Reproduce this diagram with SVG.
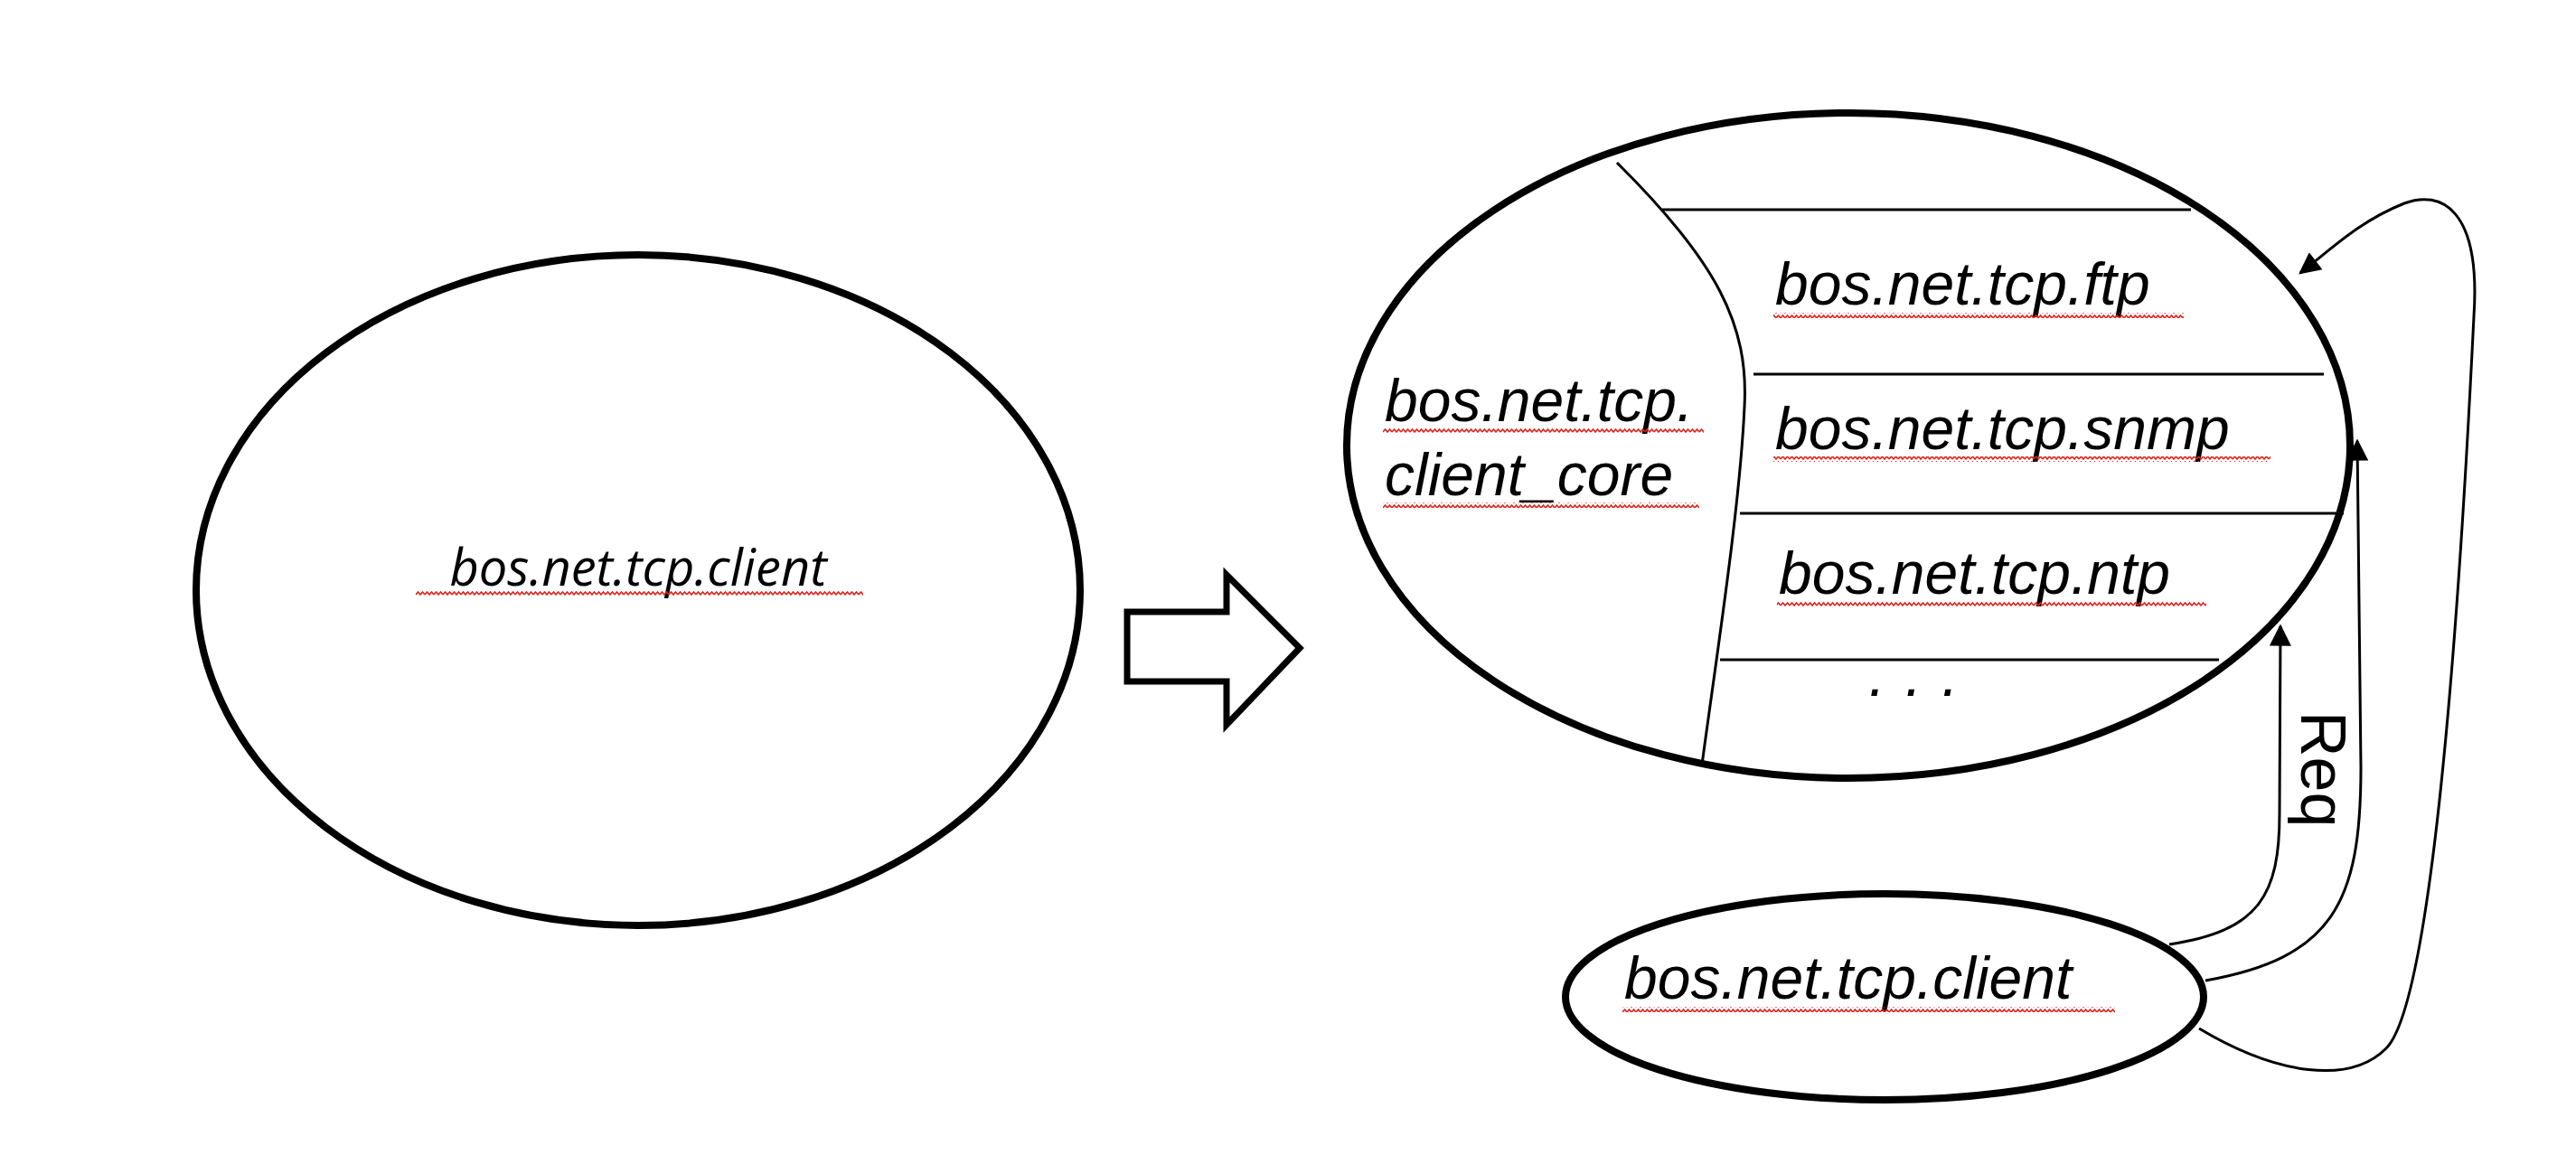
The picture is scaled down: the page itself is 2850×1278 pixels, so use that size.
<svg xmlns="http://www.w3.org/2000/svg" width="2850" height="1278" viewBox="0 0 2850 1278">
<style>
.el{fill:none;stroke:#000;stroke-width:8}
.ln{fill:none;stroke:#000;stroke-width:3}
.t{font-family:"Liberation Sans",Arial,sans-serif;font-style:italic;font-size:66px;fill:#000}
.tc{font-family:"Open Sans","Noto Sans",sans-serif;font-style:italic;font-size:56px;fill:#000}
.sq{fill:url(#wave);stroke:none}
</style>
<defs>
<pattern id="wave" width="10" height="6" patternUnits="userSpaceOnUse">
<path d="M0 4 L2.5 1 L5 4 L7.5 1 L10 4" fill="none" stroke="#e0201a" stroke-width="1.6"/>
</pattern>
<marker id="ah" viewBox="0 0 10 10" refX="9" refY="5" markerWidth="9" markerHeight="9" markerUnits="userSpaceOnUse" orient="auto">
<path d="M0 0 L10 5 L0 10 z" fill="#000"/>
</marker>
<marker id="ah2" viewBox="0 0 10 10" refX="9" refY="5" markerWidth="30" markerHeight="24" markerUnits="userSpaceOnUse" orient="auto">
<path d="M0 0 L10 5 L0 10 z" fill="#000"/>
</marker>
</defs>
<g id="left-node">
<ellipse class="el" cx="706" cy="653" rx="489" ry="371"/>
<text class="tc" x="706" y="648" text-anchor="middle">bos.net.tcp.client</text>
<rect class="sq" x="460" y="654" width="495" height="6"/>
</g>
<g id="transform-arrow">
<path d="M1247 677 L1357 677 L1357 636 L1438 717 L1357 802 L1357 754 L1247 754 Z" fill="#fff" stroke="#000" stroke-width="7"/>
</g>
<g id="big-node">
<ellipse class="el" cx="2045" cy="493" rx="555" ry="368"/>
<path class="ln" d="M1789 180 C1900 290 1935 360 1930 450 C1925 560 1900 720 1883 846"/>
<line class="ln" x1="1839" y1="232" x2="2424" y2="232"/>
<line class="ln" x1="1940" y1="414" x2="2571" y2="414"/>
<line class="ln" x1="1925" y1="568" x2="2593" y2="568"/>
<line class="ln" x1="1903" y1="730" x2="2455" y2="730"/>
<text class="t" x="1532" y="466">bos.net.tcp.</text>
<rect class="sq" x="1530" y="474" width="355" height="6"/>
<text class="t" x="1532" y="548">client_core</text>
<rect class="sq" x="1530" y="556" width="350" height="6"/>
<text class="t" x="1964" y="337">bos.net.tcp.ftp</text>
<rect class="sq" x="1962" y="346" width="454" height="6"/>
<text class="t" x="1964" y="497">bos.net.tcp.snmp</text>
<rect class="sq" x="1962" y="505" width="550" height="6"/>
<text class="t" x="1968" y="657">bos.net.tcp.ntp</text>
<rect class="sq" x="1966" y="665" width="475" height="6"/>
<text class="t" x="2063" y="785" font-style="normal">· · ·</text>
</g>
<g id="small-node">
<ellipse class="el" cx="2085" cy="1103" rx="353" ry="114"/>
<text class="t" x="1797" y="1105">bos.net.tcp.client</text>
<rect class="sq" x="1795" y="1114" width="545" height="6"/>
</g>
<g id="connectors">
<path class="ln" marker-end="url(#ah2)" d="M2400 1045 C2500 1030 2522 990 2522 900 L2523 693"/>
<path class="ln" marker-end="url(#ah2)" d="M2440 1085 C2580 1060 2612 1000 2612 850 L2608 488"/>
<path class="ln" marker-end="url(#ah2)" d="M2433 1138 C2520 1190 2600 1200 2640 1160 C2690 1110 2720 700 2737 350 C2745 230 2700 210 2660 225 C2610 245 2580 275 2545 302"/>
<text font-family="Liberation Sans,Arial,sans-serif" font-size="70" transform="translate(2546 787) rotate(90)">Req</text>
</g>
</svg>
